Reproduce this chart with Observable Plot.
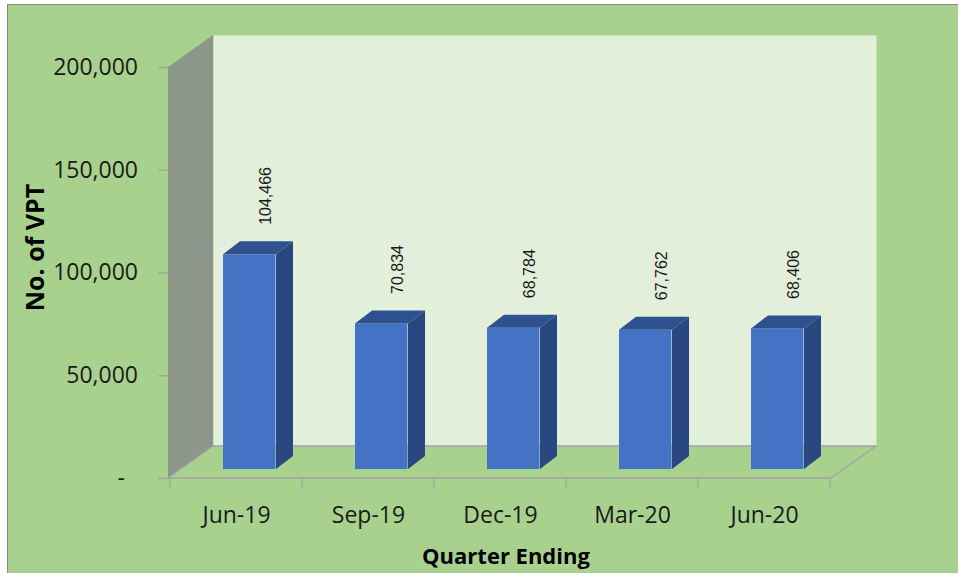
<!DOCTYPE html>
<html><head><meta charset="utf-8">
<script src="https://cdn.jsdelivr.net/npm/d3@7"></script>
<script src="https://cdn.jsdelivr.net/npm/@observablehq/plot@0.6"></script>
<style>
html,body{margin:0;padding:0;background:#fff;}
#wrap{position:relative;width:958px;height:573px;overflow:hidden;}
#bg{position:absolute;left:7px;top:4px;right:0;bottom:0;background:#a9d18e;border-left:1.5px solid #8a8a8a;border-top:1.5px solid #8a8a8a;}
#chart{position:absolute;left:0;top:0;}
</style></head><body>
<div id="wrap"><div id="bg"></div><div id="chart"></div></div>
<script>
// ---- data ----
const quarters = ["Jun-19", "Sep-19", "Dec-19", "Mar-20", "Jun-20"];
const vpt = [104466, 70834, 68784, 67762, 68406];
const yTicks = [0, 50000, 100000, 150000, 200000];
const yMax = 200000;
const xTitle = "Quarter Ending";
const yTitle = "No. of VPT";

const data = quarters.map((q, i) => ({q, v: vpt[i]}));

// ---- layout / style ----
const W = 958, H = 573;
const mL = 168, mR = 127, mT = 67, mB = 95;
const wallDX = 45, wallDY = -32;       // 3D depth of the walls
const barDX = 13, barDY = -9;          // bar placement inside depth
const barDepthX = 17, barDepthY = -13; // bar depth
const bw = (W - mL - mR) / quarters.length;
const barW = 53;
const insetL = 40, insetR = bw - insetL - barW;
const fmt = d3.format(",");
const gridGray = "#a3a3a3";

function poly(g, pts, fill, stroke) {
  g.append("polygon")
    .attr("points", pts.map(p => p.join(",")).join(" "))
    .attr("fill", fill)
    .attr("stroke", stroke || "none")
    .attr("stroke-width", stroke ? 1.5 : 0)
    .attr("stroke-linejoin", "round");
}

// side wall + floor drawn from the frame dimensions
function walls(index, scales, values, dims) {
  const d = dims || values;
  const l = d.marginLeft, t = d.marginTop;
  const r = d.width - d.marginRight, b = d.height - d.marginBottom;
  const g = d3.create("svg:g");
  poly(g, [[l, t], [l + wallDX, t + wallDY], [l + wallDX, b + wallDY], [l, b]], "#8c968a");
  poly(g, [[l, b], [r, b], [r + wallDX, b + wallDY], [l + wallDX, b + wallDY]], "#a9d18e", gridGray);
  // boundary ticks below the front floor edge, through the x scale
  const x = scales.x;
  const bwid = x.bandwidth ? x.bandwidth() : bw;
  const bounds = quarters.map(q => x(q)).concat([x(quarters[quarters.length - 1]) + bwid]);
  for (const px of bounds) {
    g.append("line").attr("x1", px).attr("x2", px).attr("y1", b).attr("y2", b + 9)
      .attr("stroke", gridGray).attr("stroke-width", 1.5);
  }
  return g.node();
}

// side and top faces of each bar, through the x and y scales
function barFaces(index, scales) {
  const x = scales.x, y = scales.y;
  const g = d3.create("svg:g");
  const y0 = y(0) + barDY;
  for (const d of data) {
    const x1 = x(d.q) + insetL + barDX, x2 = x1 + barW;
    const yt = y(d.v) + barDY;
    poly(g, [[x2, yt], [x2, y0], [x2 + barDepthX, y0 + barDepthY], [x2 + barDepthX, yt + barDepthY]], "#294780");
    poly(g, [[x1, yt], [x2, yt], [x2 + barDepthX, yt + barDepthY], [x1 + barDepthX, yt + barDepthY]], "#2f5190");
  }
  return g.node();
}

const chart = Plot.plot({
  width: W, height: H,
  marginLeft: mL, marginRight: mR, marginTop: mT, marginBottom: mB,
  style: {background: "transparent", fontFamily: "'Open Sans', sans-serif", color: "#1a1a1a"},
  x: {domain: quarters, padding: 0, axis: null},
  y: {domain: [0, yMax], axis: null},
  marks: [
    Plot.frame({fill: "#e2efda", dx: wallDX, dy: wallDY}),
    walls,
    Plot.axisY(yTicks, {
      label: null,
      tickSize: 9.5, tickPadding: 21, fontSize: 23,
      tickFormat: d => d === 0 ? "-\u2007" : fmt(d),
      stroke: gridGray, fill: "#1a1a1a", strokeWidth: 1.5
    }),
    Plot.axisX({label: null, tickSize: 0, tickPadding: 28, fontSize: 23, fill: "#1a1a1a"}),
    Plot.barY(data, {x: "q", y: "v", fill: "#4472c4", insetLeft: insetL, insetRight: insetR, dx: barDX, dy: barDY}),
    barFaces,
    Plot.text(data, {
      x: "q", y: "v", text: d => fmt(d.v), rotate: -90, textAnchor: "start",
      dx: 29, dy: -39, fontSize: 16, fontFamily: "'Liberation Sans', Arial, sans-serif", fill: "#1a1a1a"
    }),
    Plot.text([yTitle], {
      text: d => d, frameAnchor: "middle", rotate: -90, dx: 35 - (mL + (W - mR)) / 2, dy: 247 - (mT + (H - mB)) / 2,
      fontSize: 25, fontWeight: "bold", fill: "#000"
    }),
    Plot.text([xTitle], {
      text: d => d, frameAnchor: "middle", dx: 505.5 - (mL + (W - mR)) / 2, dy: 556 - (mT + (H - mB)) / 2,
      fontSize: 22, fontWeight: "bold", fill: "#000"
    })
  ]
});
document.getElementById("chart").appendChild(chart);
</script>
</body></html>
